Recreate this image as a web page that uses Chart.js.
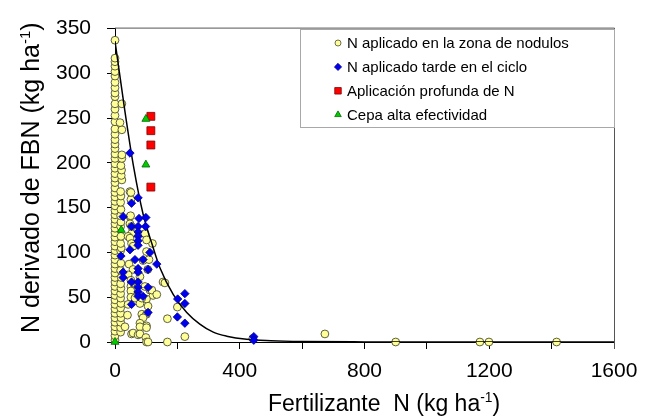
<!DOCTYPE html>
<html>
<head>
<meta charset="utf-8">
<script src="https://cdn.jsdelivr.net/npm/chart.js@4.4.1/dist/chart.umd.min.js"></script>
<style>
  body { margin: 0; background: #fff; }
  #wrap { width: 648px; height: 420px; }
</style>
</head>
<body>
<div id="wrap"><canvas id="fbn" width="648" height="420"></canvas></div>
<script>
// [fertilizante N, N derivado de FBN] in kg/ha
const zonaNodulos = [
  [0,2],[0,7],[0,12],[0,17],[0,22],[0,27],[0,32],[0,37],[0,42],[0,47],[0,52],[0,57],
  [0,62],[0,67],[0,72],[0,77],[0,82],[0,87],[0,92],[0,97],[0,102],[0,107],[0,112],[0,117],
  [0,122],[0,127],[0,132],[0,137],[0,142],[0,147],[0,152],[0,157],[0,162],[0,167],[0,172],
  [0,178],[0,183],[0,188],[0,194],[0,199],[0,205],[0,210],[0,216],[0,221],[0,226],[0,232],
  [0,238],[0,246],[0,253],[0,260],[0,266],[0,274],[0,278],[0,284],[0,290],[0,297],[0,302],
  [0,308],[0,313],[0,317],[0,337],
  [18,11],[18,16],[18,22],[19,27],[18,32],[18,38],[19,43],[18,49],[18,54],[19,60],[18,65],
  [20,72],[18,80],[19,88],[18,102],[20,105],[18,110],[19,118],[18,129],[19,134],[18,141],
  [19,148],[18,156],[19,163],[18,168],[22,181],[20,186],[21,192],[19,197],[22,205],[22,209],
  [22,237],[16,245],[22,266],
  [48,168],[51,159],[51,167],[48,140],[50,141],[48,132],[53,129],[53,121],[42,118],[48,116],
  [53,110],[58,107],[45,87],[58,81],[42,75],[51,69],[53,64],[51,62],[58,58],[51,57],[51,50],
  [64,49],[42,42],[40,30],[32,17],[53,9],[58,10],[74,8],
  [80,73],[96,62],[112,58],[122,52],[101,48],[80,43],[86,49],[106,40],[86,31],[101,31],
  [90,27],[80,21],[101,18],[80,17],[101,16],[80,9],[99,5],[101,0],[106,0],[105,81],[90,91],
  [109,92],[101,101],[120,110],[96,121],[101,114],[118,58],[134,53],[154,67],[160,66],
  [200,39],[168,26],[224,6],[168,0],[442,4],[673,9],[900,0],[1170,0],[1199,0],[1416,0]
];
const tardeCiclo = [
  [48,211],[74,161],[53,155],[26,140],[77,138],[99,139],[53,129],[74,129],[98,129],[74,123],
  [74,118],[74,113],[74,108],[48,103],[112,100],[19,96],[64,92],[90,92],[134,87],[74,82],
  [106,81],[26,78],[74,78],[26,72],[53,67],[74,67],[74,61],[106,61],[74,56],[74,51],[90,51],
  [53,42],[106,33],[224,54],[201,48],[224,43],[200,28],[224,21],[445,6],[445,2]
];
const profunda = [[115,252],[115,236],[115,220],[115,173]];
const cepaAlta = [[99,249],[99,198],[20,125],[0,0]];

// fitted response curve
const curveX = [0, 30, 60, 90, 120, 144, 187, 230, 272, 315, 358, 422, 500, 600, 800, 1000, 1600];
const curveY = [336, 262, 195, 143, 108, 83, 53, 33, 20, 11, 6.5, 3, 1.5, 0.6, 0.1, 0, 0];

const seriesLabels = [
  'N aplicado en la zona de nodulos',
  'N aplicado tarde en el ciclo',
  'Aplicación profunda de N',
  'Cepa alta efectividad'
];
const xTickLabels = [0, 400, 800, 1200, 1600];
const yTickLabels = [0, 50, 100, 150, 200, 250, 300, 350];

const FONT = "'Liberation Sans', Arial, sans-serif";
Chart.defaults.font.family = FONT;
Chart.defaults.color = '#000';

const toXY = pts => pts.map(p => ({ x: p[0], y: p[1] }));

// text with a raised "-1" exponent
function drawSup(ctx, parts, x, y, size) {
  let cx = x;
  parts.forEach(([txt, sup]) => {
    ctx.font = (sup ? size * 0.6 : size) + 'px ' + FONT;
    ctx.fillText(txt, cx, sup ? y - size * 0.38 : y);
    cx += ctx.measureText(txt).width;
  });
}

const frame = {
  id: 'frame',
  afterDraw(chart) {
    const { ctx, chartArea: a } = chart;
    ctx.save();
    ctx.strokeStyle = '#555';
    ctx.lineWidth = 1;
    ctx.beginPath();
    ctx.moveTo(a.left, a.top - 0.5);
    ctx.lineTo(a.right + 0.5, a.top - 0.5);
    ctx.lineTo(a.right + 0.5, a.bottom + 7);
    ctx.stroke();
    ctx.restore();
  }
};

const axisTitles = {
  id: 'axisTitles',
  afterDraw(chart) {
    const { ctx, chartArea: a } = chart;
    ctx.save();
    ctx.fillStyle = '#000';
    ctx.textBaseline = 'alphabetic';
    ctx.textAlign = 'left';
    drawSup(ctx, [['Fertilizante  N (kg ha', false], ['-1', true], [')', false]],
      a.left + 153, a.bottom + 69, 23);
    ctx.translate(39, a.bottom - 9);
    ctx.rotate(-Math.PI / 2);
    drawSup(ctx, [['N derivado de FBN (kg ha', false], ['-1', true], [')', false]], 0, 0, 25);
    ctx.restore();
  }
};

const legendBox = {
  id: 'legendBox',
  afterDraw(chart) {
    const { ctx, chartArea: a } = chart;
    const sizes = [3, 3.6, 4.6, 3.8];
    ctx.save();
    ctx.strokeStyle = '#a8a8a8';
    ctx.lineWidth = 1;
    ctx.strokeRect(300.5, 29.5, a.right - 300, 98);
    ctx.font = '15px ' + FONT;
    ctx.textBaseline = 'alphabetic';
    chart.data.datasets.slice(0, 4).forEach((ds, i) => {
      const y = 43 + i * 23.9;
      ctx.fillStyle = ds.backgroundColor;
      ctx.strokeStyle = ds.borderColor;
      ctx.lineWidth = 0.8;
      Chart.helpers.drawPoint(ctx, { pointStyle: ds.pointStyle, radius: sizes[i], rotation: 0, borderWidth: 0.8 }, 338, y);
      ctx.fillStyle = '#000';
      ctx.fillText(ds.label, 347, y + 5);
    });
    ctx.restore();
  }
};

new Chart(document.getElementById('fbn'), {
  type: 'scatter',
  data: {
    datasets: [
      { label: seriesLabels[0], data: toXY(zonaNodulos), pointStyle: 'circle', pointRadius: 3.9,
        backgroundColor: '#FFFF99', borderColor: '#4d4d33', borderWidth: 0.9, order: 5, clip: false },
      { label: seriesLabels[1], data: toXY(tardeCiclo), pointStyle: 'rectRot', pointRadius: 4.2,
        backgroundColor: '#0000EE', borderColor: '#00008B', borderWidth: 0.8, order: 3, clip: false },
      { label: seriesLabels[2], data: toXY(profunda), pointStyle: 'rect', pointRadius: 5.6,
        backgroundColor: '#FF0000', borderColor: '#800000', borderWidth: 0.8, order: 2, clip: false },
      { label: seriesLabels[3], data: toXY(cepaAlta), pointStyle: 'triangle', pointRadius: 4.6,
        backgroundColor: '#00CC00', borderColor: '#006400', borderWidth: 0.8, order: 1, clip: false },
      { type: 'line', label: '', data: curveX.map((x, i) => ({ x, y: curveY[i] })),
        borderColor: '#000', borderWidth: 1.5, pointRadius: 0, fill: false,
        cubicInterpolationMode: 'monotone', order: 4 }
    ]
  },
  options: {
    responsive: false,
    animation: false,
    layout: { padding: { top: 19, right: 34, left: 0, bottom: 0 } },
    plugins: { legend: { display: false }, tooltip: { enabled: false } },
    scales: {
      x: {
        type: 'linear', min: 0, max: 1600,
        ticks: { stepSize: 200, padding: 10, font: { size: 21 },
          callback: v => xTickLabels.includes(v) ? v : '' },
        grid: { drawOnChartArea: false, tickLength: 7, color: '#000' },
        border: { color: '#000', width: 1 },
        afterFit: s => { s.height = 78; }
      },
      y: {
        min: 0, max: 350,
        ticks: { stepSize: 50, padding: 16, font: { size: 21 },
          callback: v => yTickLabels.includes(v) ? v : '' },
        grid: { drawOnChartArea: false, tickLength: 8, color: '#000' },
        border: { color: '#000', width: 1 },
        afterFit: s => { s.width = 115; }
      }
    }
  },
  plugins: [frame, axisTitles, legendBox]
});
</script>
</body>
</html>
